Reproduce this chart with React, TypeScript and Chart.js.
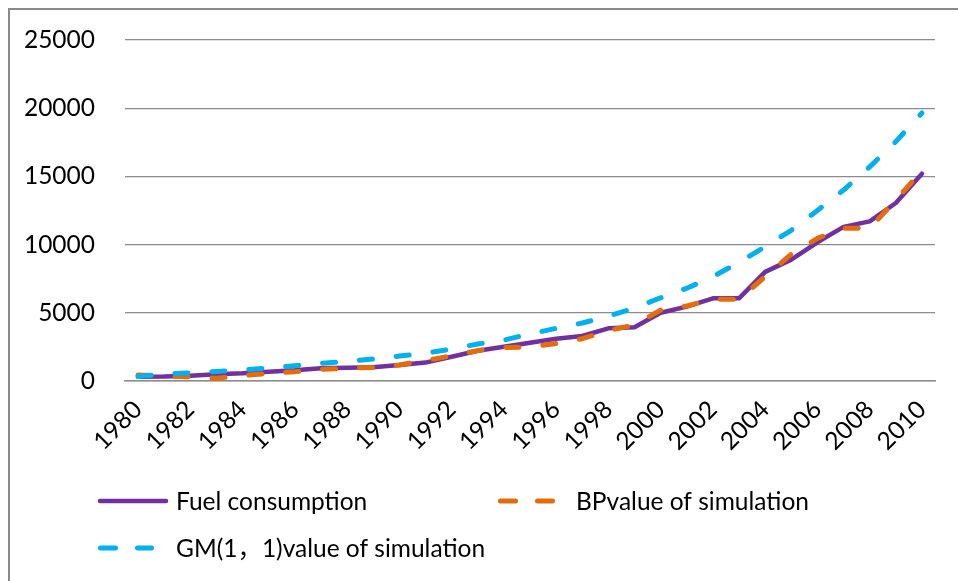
import React, { useEffect, useRef } from "react";
import { Chart, registerables } from "chart.js";

Chart.register(...registerables);

const years = [
  "1980", "1981", "1982", "1983", "1984", "1985", "1986", "1987", "1988", "1989",
  "1990", "1991", "1992", "1993", "1994", "1995", "1996", "1997", "1998", "1999",
  "2000", "2001", "2002", "2003", "2004", "2005", "2006", "2007", "2008", "2009", "2010",
];
const shownYearLabels = [
  "1980", "1982", "1984", "1986", "1988", "1990", "1992", "1994",
  "1996", "1998", "2000", "2002", "2004", "2006", "2008", "2010",
];

const fuelConsumption = [
  320, 330, 390, 490, 560, 680, 780, 930, 980, 1000,
  1170, 1350, 1780, 2220, 2510, 2810, 3100, 3300, 3860, 3940,
  5000, 5450, 6060, 6060, 8000, 8900, 10170, 11300, 11700, 13050, 15200,
];
const bpSimulation = [
  440, 370, 300, 200, 400, 560, 680, 855, 930, 1000,
  1170, 1500, 1850, 2230, 2450, 2500, 2750, 3100, 3700, 4100,
  5200, 5500, 6000, 6000, 7650, 9300, 10460, 11200, 11190, 13270, 15400,
];
const gmSimulation = [
  330, 510, 600, 700, 820, 950, 1120, 1300, 1440, 1610,
  1830, 2030, 2350, 2710, 3000, 3450, 3860, 4250, 4750, 5350,
  6100, 6800, 7650, 8700, 9850, 11050, 12500, 14000, 15700, 17550, 19650,
];

const seriesNames = ["Fuel consumption", "BPvalue of simulation", "GM(1，1)value of simulation"];
const seriesColors = ["#7030A0", "#E46C0A", "#00B0F0"];

const yMin = 0;
const yMax = 25000;
const yStep = 5000;

const FONT = 'Lato, "Noto Sans CJK SC", sans-serif';
const FONT_SIZE = 24.5;
const DASH = [13, 24];

const legendPlugin = {
  id: "customLegend",
  afterDraw(chart: any) {
    const ctx = chart.ctx;
    const items = [
      { x: 98, y: 501, len: 70, dashed: false, tx: 176 },
      { x: 498, y: 501, len: 60, dashed: true, tx: 576 },
      { x: 98, y: 548, len: 56, dashed: true, tx: 176 },
    ];
    ctx.save();
    items.forEach((it, i) => {
      ctx.beginPath();
      ctx.strokeStyle = seriesColors[i];
      ctx.lineCap = "round";
      if (it.dashed) {
        ctx.lineWidth = 5;
        ctx.setLineDash([15, 22]);
        ctx.moveTo(it.x + 2.5, it.y);
        ctx.lineTo(it.x + it.len - 2.5, it.y);
      } else {
        ctx.lineWidth = 4.5;
        ctx.setLineDash([]);
        ctx.moveTo(it.x + 2, it.y);
        ctx.lineTo(it.x + it.len - 2, it.y);
      }
      ctx.stroke();
      ctx.setLineDash([]);
      ctx.fillStyle = "#000";
      ctx.font = `${FONT_SIZE}px ${FONT}`;
      ctx.textAlign = "left";
      ctx.textBaseline = "middle";
      ctx.fillText(seriesNames[i], it.tx, it.y + 1);
    });
    ctx.restore();
  },
};

export default function App() {
  const canvasRef = useRef<HTMLCanvasElement | null>(null);

  useEffect(() => {
    if (!canvasRef.current) return;
    const mk = (data: number[], i: number, dashed: boolean, order: number) => ({
      label: seriesNames[i],
      data,
      borderColor: seriesColors[i],
      backgroundColor: seriesColors[i],
      borderWidth: dashed ? 5 : 4.5,
      borderDash: dashed ? DASH : [],
      borderCapStyle: "round",
      borderJoinStyle: "round",
      pointRadius: 0,
      pointHoverRadius: 0,
      tension: 0,
      fill: false,
      order,
    });
    const chart = new Chart(canvasRef.current, {
      type: "line",
      data: {
        labels: years,
        datasets: [
          mk(fuelConsumption, 0, false, 2),
          mk(bpSimulation, 1, true, 1),
          mk(gmSimulation, 2, true, 0),
        ] as any,
      },
      options: {
        responsive: false,
        animation: false,
        devicePixelRatio: 1,
        layout: { padding: { left: 0, top: 40, right: 23, bottom: 0 }, autoPadding: false },
        plugins: {
          legend: { display: false },
          tooltip: { enabled: false },
          title: { display: false },
        },
        scales: {
          x: {
            offset: true,
            grid: { display: false, drawTicks: false },
            border: { display: true, color: "#8c8c8c", width: 1.5 },
            ticks: {
              autoSkip: false,
              minRotation: 45,
              maxRotation: 45,
              padding: 14,
              color: "#000",
              font: { family: FONT, size: FONT_SIZE },
              callback: function (this: any, value: any) {
                const lab = this.getLabelForValue(value);
                return shownYearLabels.includes(lab) ? lab : "";
              },
            },
            afterFit: (s: any) => {
              s.height = 200;
            },
          },
          y: {
            min: yMin,
            max: yMax,
            grid: { color: "#8c8c8c", lineWidth: 1.3, drawTicks: false },
            border: { display: false },
            ticks: {
              stepSize: yStep,
              padding: 30,
              color: "#000",
              font: { family: FONT, size: FONT_SIZE },
              callback: (v: any) => String(v),
            },
            afterFit: (s: any) => {
              s.width = 125;
              s.paddingTop = 0;
              s.paddingBottom = 0;
            },
          },
        },
      },
      plugins: [legendPlugin],
    });
    return () => chart.destroy();
  }, []);

  return (
    <div
      style={{
        position: "fixed",
        left: 0,
        top: 0,
        width: 958,
        height: 581,
        overflow: "hidden",
        background: "#fff",
      }}
    >
      <div
        style={{
          position: "absolute",
          left: 8,
          top: 8,
          width: 1000,
          height: 1000,
          border: "2px solid #8a8a8a",
          boxSizing: "border-box",
        }}
      />
      <canvas
        ref={canvasRef}
        width={958}
        height={581}
        style={{ position: "absolute", left: 0, top: 0, width: 958, height: 581 }}
      />
    </div>
  );
}
